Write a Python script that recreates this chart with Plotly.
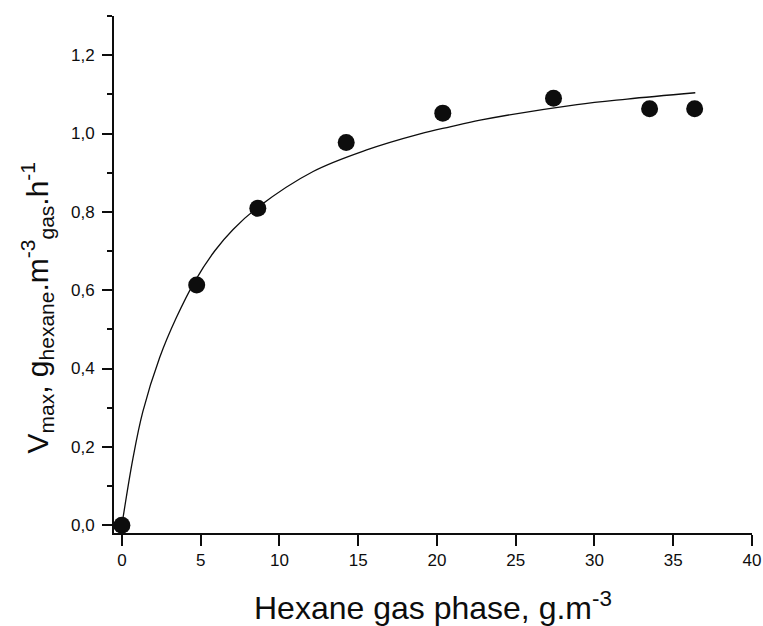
import plotly.graph_objects as go

# Measured maximum hexane removal rate versus hexane concentration in the gas phase
conc = [0, 4.75, 8.63, 14.24, 20.37, 27.40, 33.50, 36.36]
vmax = [0, 0.613, 0.809, 0.977, 1.052, 1.090, 1.063, 1.063]

# Saturation curve through the measurements
fit_x = [0, 0.7, 1.33, 2.4, 3.46, 4.62, 5.89, 7.06, 8.65, 12.14, 15.54,
         18.93, 20.83, 22.74, 28.89, 32.07, 36.4]
fit_y = [0, 0.170, 0.290, 0.428, 0.530, 0.622, 0.700, 0.755, 0.812, 0.903,
         0.958, 0.999, 1.017, 1.034, 1.074, 1.088, 1.104]

x_ticks = [0, 5, 10, 15, 20, 25, 30, 35, 40]
y_ticks = [0.0, 0.2, 0.4, 0.6, 0.8, 1.0, 1.2]

FONT = "Liberation Sans, Arial, Helvetica, sans-serif"
INK = "#0d0d0d"

fig = go.Figure()
fig.add_trace(go.Scatter(
    x=fit_x, y=fit_y, mode="lines",
    line=dict(color=INK, width=1.3, shape="spline", smoothing=1.0),
    hoverinfo="skip", showlegend=False,
))
fig.add_trace(go.Scatter(
    x=conc, y=vmax, mode="markers",
    marker=dict(size=17, color=INK, line=dict(width=0)),
    cliponaxis=False, showlegend=False,
))

axis_common = dict(
    showgrid=False, zeroline=False, showline=True, linecolor=INK,
    linewidth=2, ticks="outside", tickwidth=2, tickcolor=INK,
    automargin=False,
    tickfont=dict(family=FONT, size=17, color=INK),
)

fig.update_xaxes(
    range=[-0.5, 40], tickvals=x_ticks, ticklen=11, **axis_common,
)
fig.update_yaxes(
    range=[-0.02, 1.3], tickvals=y_ticks, tickformat=".1f", ticklen=10,
    ticklabelstandoff=4,
    minor=dict(dtick=0.1, tick0=0.1, ticks="outside", ticklen=5,
               tickwidth=1.5, tickcolor=INK),
    **axis_common,
)

fig.add_annotation(
    xref="paper", yref="paper", x=-0.12, y=0.437,
    text="V<sub>max</sub>, g<sub>hexane</sub>.m<sup>-3</sup><sub>gas</sub>.h<sup>-1</sup>",
    textangle=-90, showarrow=False, xanchor="center", yanchor="middle",
    font=dict(family=FONT, size=30, color=INK),
)
fig.add_annotation(
    xref="paper", yref="paper", x=0.5, y=-0.098,
    text="Hexane gas phase, g.m<sup>-3</sup>",
    showarrow=False, xanchor="center", yanchor="top",
    font=dict(family=FONT, size=32, color=INK),
)

fig.update_layout(
    width=763, height=626,
    margin=dict(l=114, r=11, t=16, b=93),
    paper_bgcolor="white", plot_bgcolor="white",
    separators=", ",
    font=dict(family=FONT, color=INK),
)

fig.write_html("out.html")
